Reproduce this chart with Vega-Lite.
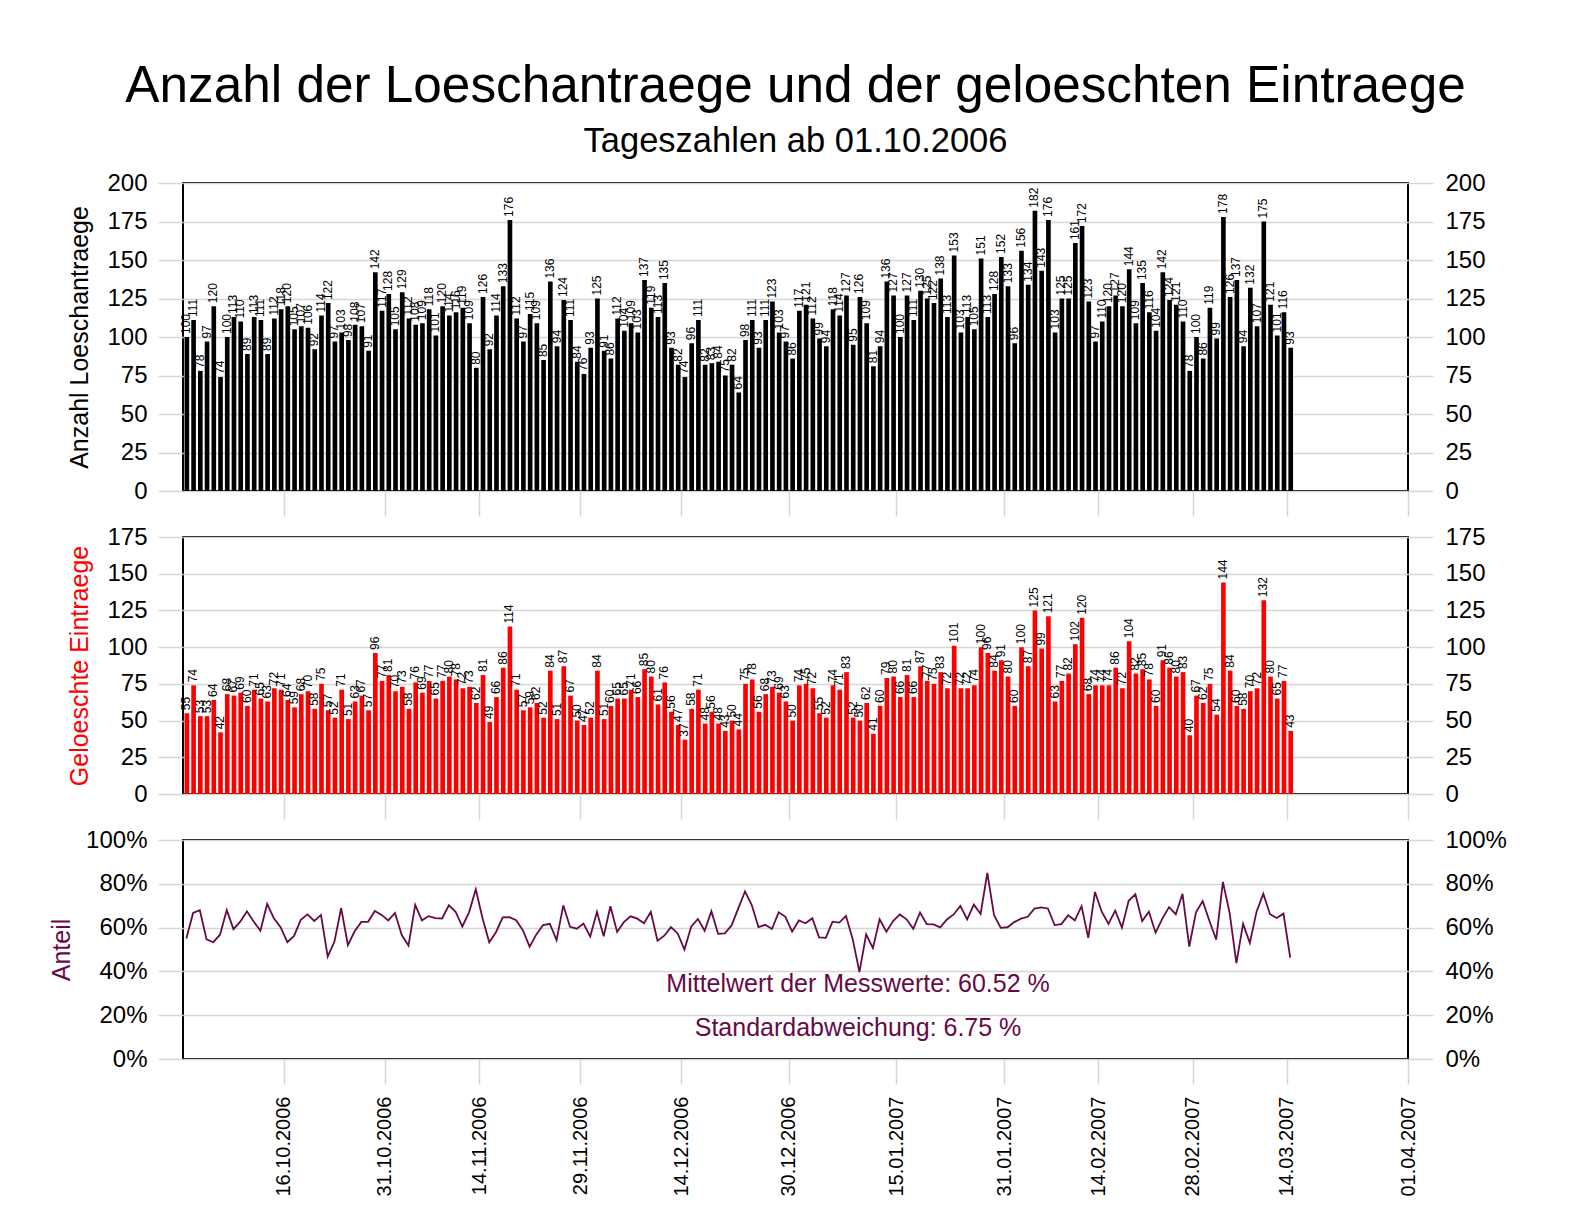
{
  "$schema": "https://vega.github.io/schema/vega-lite/v6.json",
  "background": "white",
  "padding": {"left": 48, "top": 61, "right": 5, "bottom": 5},
  "title": {
    "text": "Anzahl der Loeschantraege und der geloeschten Eintraege",
    "subtitle": "Tageszahlen ab 01.10.2006",
    "font": "Liberation Sans",
    "subtitleFont": "Liberation Sans",
    "fontSize": 51.3,
    "subtitleFontSize": 34.5,
    "fontWeight": "normal",
    "color": "black",
    "subtitleColor": "black",
    "anchor": "middle",
    "frame": "group",
    "subtitlePadding": 12,
    "offset": 12
  },
  "config": {
    "font": "Liberation Sans",
    "view": {"stroke": "black", "strokeWidth": 2},
    "axis": {
      "labelFont": "Liberation Sans",
      "titleFont": "Liberation Sans",
      "labelColor": "black",
      "titleFontWeight": "normal",
      "domain": false,
      "tickColor": "#d6d6d6",
      "tickWidth": 1.5,
      "tickSize": 25,
      "gridColor": "#d6d6d6",
      "gridWidth": 1.5,
      "labelOverlap": false,
      "labelFlush": false
    }
  },
  "datasets": {
    "tage": [
      {"date": "2006-10-01", "antraege": 100, "geloescht": 55, "anteil": 0.55},
      {"date": "2006-10-02", "antraege": 111, "geloescht": 74, "anteil": 0.6667},
      {"date": "2006-10-03", "antraege": 78, "geloescht": 53, "anteil": 0.6795},
      {"date": "2006-10-04", "antraege": 97, "geloescht": 53, "anteil": 0.5464},
      {"date": "2006-10-05", "antraege": 120, "geloescht": 64, "anteil": 0.5333},
      {"date": "2006-10-06", "antraege": 74, "geloescht": 42, "anteil": 0.5676},
      {"date": "2006-10-07", "antraege": 100, "geloescht": 68, "anteil": 0.68},
      {"date": "2006-10-08", "antraege": 113, "geloescht": 67, "anteil": 0.5929},
      {"date": "2006-10-09", "antraege": 110, "geloescht": 69, "anteil": 0.6273},
      {"date": "2006-10-10", "antraege": 89, "geloescht": 60, "anteil": 0.6742},
      {"date": "2006-10-11", "antraege": 113, "geloescht": 71, "anteil": 0.6283},
      {"date": "2006-10-12", "antraege": 111, "geloescht": 65, "anteil": 0.5856},
      {"date": "2006-10-13", "antraege": 89, "geloescht": 63, "anteil": 0.7079},
      {"date": "2006-10-14", "antraege": 112, "geloescht": 72, "anteil": 0.6429},
      {"date": "2006-10-15", "antraege": 118, "geloescht": 71, "anteil": 0.6017},
      {"date": "2006-10-16", "antraege": 120, "geloescht": 64, "anteil": 0.5333},
      {"date": "2006-10-17", "antraege": 105, "geloescht": 59, "anteil": 0.5619},
      {"date": "2006-10-18", "antraege": 107, "geloescht": 68, "anteil": 0.6355},
      {"date": "2006-10-19", "antraege": 106, "geloescht": 70, "anteil": 0.6604},
      {"date": "2006-10-20", "antraege": 92, "geloescht": 58, "anteil": 0.6304},
      {"date": "2006-10-21", "antraege": 114, "geloescht": 75, "anteil": 0.6579},
      {"date": "2006-10-22", "antraege": 122, "geloescht": 57, "anteil": 0.4672},
      {"date": "2006-10-23", "antraege": 97, "geloescht": 52, "anteil": 0.5361},
      {"date": "2006-10-24", "antraege": 103, "geloescht": 71, "anteil": 0.6893},
      {"date": "2006-10-25", "antraege": 98, "geloescht": 51, "anteil": 0.5204},
      {"date": "2006-10-26", "antraege": 108, "geloescht": 63, "anteil": 0.5833},
      {"date": "2006-10-27", "antraege": 107, "geloescht": 67, "anteil": 0.6262},
      {"date": "2006-10-28", "antraege": 91, "geloescht": 57, "anteil": 0.6264},
      {"date": "2006-10-29", "antraege": 142, "geloescht": 96, "anteil": 0.6761},
      {"date": "2006-10-30", "antraege": 117, "geloescht": 77, "anteil": 0.6581},
      {"date": "2006-10-31", "antraege": 128, "geloescht": 81, "anteil": 0.6328},
      {"date": "2006-11-01", "antraege": 105, "geloescht": 70, "anteil": 0.6667},
      {"date": "2006-11-02", "antraege": 129, "geloescht": 73, "anteil": 0.5659},
      {"date": "2006-11-03", "antraege": 112, "geloescht": 58, "anteil": 0.5179},
      {"date": "2006-11-04", "antraege": 108, "geloescht": 76, "anteil": 0.7037},
      {"date": "2006-11-05", "antraege": 109, "geloescht": 69, "anteil": 0.633},
      {"date": "2006-11-06", "antraege": 118, "geloescht": 77, "anteil": 0.6525},
      {"date": "2006-11-07", "antraege": 101, "geloescht": 65, "anteil": 0.6436},
      {"date": "2006-11-08", "antraege": 120, "geloescht": 77, "anteil": 0.6417},
      {"date": "2006-11-09", "antraege": 114, "geloescht": 80, "anteil": 0.7018},
      {"date": "2006-11-10", "antraege": 116, "geloescht": 78, "anteil": 0.6724},
      {"date": "2006-11-11", "antraege": 119, "geloescht": 72, "anteil": 0.605},
      {"date": "2006-11-12", "antraege": 109, "geloescht": 73, "anteil": 0.6697},
      {"date": "2006-11-13", "antraege": 80, "geloescht": 62, "anteil": 0.775},
      {"date": "2006-11-14", "antraege": 126, "geloescht": 81, "anteil": 0.6429},
      {"date": "2006-11-15", "antraege": 92, "geloescht": 49, "anteil": 0.5326},
      {"date": "2006-11-16", "antraege": 114, "geloescht": 66, "anteil": 0.5789},
      {"date": "2006-11-17", "antraege": 133, "geloescht": 86, "anteil": 0.6466},
      {"date": "2006-11-18", "antraege": 176, "geloescht": 114, "anteil": 0.6477},
      {"date": "2006-11-19", "antraege": 112, "geloescht": 71, "anteil": 0.6339},
      {"date": "2006-11-20", "antraege": 97, "geloescht": 57, "anteil": 0.5876},
      {"date": "2006-11-21", "antraege": 115, "geloescht": 59, "anteil": 0.513},
      {"date": "2006-11-22", "antraege": 109, "geloescht": 62, "anteil": 0.5688},
      {"date": "2006-11-23", "antraege": 85, "geloescht": 52, "anteil": 0.6118},
      {"date": "2006-11-24", "antraege": 136, "geloescht": 84, "anteil": 0.6176},
      {"date": "2006-11-25", "antraege": 94, "geloescht": 51, "anteil": 0.5426},
      {"date": "2006-11-26", "antraege": 124, "geloescht": 87, "anteil": 0.7016},
      {"date": "2006-11-27", "antraege": 111, "geloescht": 67, "anteil": 0.6036},
      {"date": "2006-11-28", "antraege": 84, "geloescht": 50, "anteil": 0.5952},
      {"date": "2006-11-29", "antraege": 76, "geloescht": 47, "anteil": 0.6184},
      {"date": "2006-11-30", "antraege": 93, "geloescht": 52, "anteil": 0.5591},
      {"date": "2006-12-01", "antraege": 125, "geloescht": 84, "anteil": 0.672},
      {"date": "2006-12-02", "antraege": 91, "geloescht": 51, "anteil": 0.5604},
      {"date": "2006-12-03", "antraege": 86, "geloescht": 60, "anteil": 0.6977},
      {"date": "2006-12-04", "antraege": 112, "geloescht": 65, "anteil": 0.5804},
      {"date": "2006-12-05", "antraege": 104, "geloescht": 65, "anteil": 0.625},
      {"date": "2006-12-06", "antraege": 109, "geloescht": 71, "anteil": 0.6514},
      {"date": "2006-12-07", "antraege": 103, "geloescht": 66, "anteil": 0.6408},
      {"date": "2006-12-08", "antraege": 137, "geloescht": 85, "anteil": 0.6204},
      {"date": "2006-12-09", "antraege": 119, "geloescht": 80, "anteil": 0.6723},
      {"date": "2006-12-10", "antraege": 113, "geloescht": 61, "anteil": 0.5398},
      {"date": "2006-12-11", "antraege": 135, "geloescht": 76, "anteil": 0.563},
      {"date": "2006-12-12", "antraege": 93, "geloescht": 56, "anteil": 0.6022},
      {"date": "2006-12-13", "antraege": 82, "geloescht": 47, "anteil": 0.5732},
      {"date": "2006-12-14", "antraege": 74, "geloescht": 37, "anteil": 0.5},
      {"date": "2006-12-15", "antraege": 96, "geloescht": 58, "anteil": 0.6042},
      {"date": "2006-12-16", "antraege": 111, "geloescht": 71, "anteil": 0.6396},
      {"date": "2006-12-17", "antraege": 82, "geloescht": 48, "anteil": 0.5854},
      {"date": "2006-12-18", "antraege": 83, "geloescht": 56, "anteil": 0.6747},
      {"date": "2006-12-19", "antraege": 84, "geloescht": 48, "anteil": 0.5714},
      {"date": "2006-12-20", "antraege": 75, "geloescht": 43, "anteil": 0.5733},
      {"date": "2006-12-21", "antraege": 82, "geloescht": 50, "anteil": 0.6098},
      {"date": "2006-12-22", "antraege": 64, "geloescht": 44, "anteil": 0.6875},
      {"date": "2006-12-23", "antraege": 98, "geloescht": 75, "anteil": 0.7653},
      {"date": "2006-12-24", "antraege": 111, "geloescht": 78, "anteil": 0.7027},
      {"date": "2006-12-25", "antraege": 93, "geloescht": 56, "anteil": 0.6022},
      {"date": "2006-12-26", "antraege": 111, "geloescht": 68, "anteil": 0.6126},
      {"date": "2006-12-27", "antraege": 123, "geloescht": 73, "anteil": 0.5935},
      {"date": "2006-12-28", "antraege": 103, "geloescht": 69, "anteil": 0.6699},
      {"date": "2006-12-29", "antraege": 97, "geloescht": 63, "anteil": 0.6495},
      {"date": "2006-12-30", "antraege": 86, "geloescht": 50, "anteil": 0.5814},
      {"date": "2006-12-31", "antraege": 117, "geloescht": 74, "anteil": 0.6325},
      {"date": "2007-01-01", "antraege": 121, "geloescht": 75, "anteil": 0.6198},
      {"date": "2007-01-02", "antraege": 112, "geloescht": 72, "anteil": 0.6429},
      {"date": "2007-01-03", "antraege": 99, "geloescht": 55, "anteil": 0.5556},
      {"date": "2007-01-04", "antraege": 94, "geloescht": 52, "anteil": 0.5532},
      {"date": "2007-01-05", "antraege": 118, "geloescht": 74, "anteil": 0.6271},
      {"date": "2007-01-06", "antraege": 114, "geloescht": 71, "anteil": 0.6228},
      {"date": "2007-01-07", "antraege": 127, "geloescht": 83, "anteil": 0.6535},
      {"date": "2007-01-08", "antraege": 95, "geloescht": 52, "anteil": 0.5474},
      {"date": "2007-01-09", "antraege": 126, "geloescht": 50, "anteil": 0.3968},
      {"date": "2007-01-10", "antraege": 109, "geloescht": 62, "anteil": 0.5688},
      {"date": "2007-01-11", "antraege": 81, "geloescht": 41, "anteil": 0.5062},
      {"date": "2007-01-12", "antraege": 94, "geloescht": 60, "anteil": 0.6383},
      {"date": "2007-01-13", "antraege": 136, "geloescht": 79, "anteil": 0.5809},
      {"date": "2007-01-14", "antraege": 127, "geloescht": 80, "anteil": 0.6299},
      {"date": "2007-01-15", "antraege": 100, "geloescht": 66, "anteil": 0.66},
      {"date": "2007-01-16", "antraege": 127, "geloescht": 81, "anteil": 0.6378},
      {"date": "2007-01-17", "antraege": 111, "geloescht": 66, "anteil": 0.5946},
      {"date": "2007-01-18", "antraege": 130, "geloescht": 87, "anteil": 0.6692},
      {"date": "2007-01-19", "antraege": 125, "geloescht": 77, "anteil": 0.616},
      {"date": "2007-01-20", "antraege": 122, "geloescht": 75, "anteil": 0.6148},
      {"date": "2007-01-21", "antraege": 138, "geloescht": 83, "anteil": 0.6014},
      {"date": "2007-01-22", "antraege": 113, "geloescht": 72, "anteil": 0.6372},
      {"date": "2007-01-23", "antraege": 153, "geloescht": 101, "anteil": 0.6601},
      {"date": "2007-01-24", "antraege": 103, "geloescht": 72, "anteil": 0.699},
      {"date": "2007-01-25", "antraege": 113, "geloescht": 72, "anteil": 0.6372},
      {"date": "2007-01-26", "antraege": 105, "geloescht": 74, "anteil": 0.7048},
      {"date": "2007-01-27", "antraege": 151, "geloescht": 100, "anteil": 0.6623},
      {"date": "2007-01-28", "antraege": 113, "geloescht": 96, "anteil": 0.8496},
      {"date": "2007-01-29", "antraege": 128, "geloescht": 84, "anteil": 0.6563},
      {"date": "2007-01-30", "antraege": 152, "geloescht": 91, "anteil": 0.5987},
      {"date": "2007-01-31", "antraege": 133, "geloescht": 80, "anteil": 0.6015},
      {"date": "2007-02-01", "antraege": 96, "geloescht": 60, "anteil": 0.625},
      {"date": "2007-02-02", "antraege": 156, "geloescht": 100, "anteil": 0.641},
      {"date": "2007-02-03", "antraege": 134, "geloescht": 87, "anteil": 0.6493},
      {"date": "2007-02-04", "antraege": 182, "geloescht": 125, "anteil": 0.6868},
      {"date": "2007-02-05", "antraege": 143, "geloescht": 99, "anteil": 0.6923},
      {"date": "2007-02-06", "antraege": 176, "geloescht": 121, "anteil": 0.6875},
      {"date": "2007-02-07", "antraege": 103, "geloescht": 63, "anteil": 0.6117},
      {"date": "2007-02-08", "antraege": 125, "geloescht": 77, "anteil": 0.616},
      {"date": "2007-02-09", "antraege": 125, "geloescht": 82, "anteil": 0.656},
      {"date": "2007-02-10", "antraege": 161, "geloescht": 102, "anteil": 0.6335},
      {"date": "2007-02-11", "antraege": 172, "geloescht": 120, "anteil": 0.6977},
      {"date": "2007-02-12", "antraege": 123, "geloescht": 68, "anteil": 0.5528},
      {"date": "2007-02-13", "antraege": 97, "geloescht": 74, "anteil": 0.7629},
      {"date": "2007-02-14", "antraege": 110, "geloescht": 74, "anteil": 0.6727},
      {"date": "2007-02-15", "antraege": 120, "geloescht": 74, "anteil": 0.6167},
      {"date": "2007-02-16", "antraege": 127, "geloescht": 86, "anteil": 0.6772},
      {"date": "2007-02-17", "antraege": 120, "geloescht": 72, "anteil": 0.6},
      {"date": "2007-02-18", "antraege": 144, "geloescht": 104, "anteil": 0.7222},
      {"date": "2007-02-19", "antraege": 109, "geloescht": 82, "anteil": 0.7523},
      {"date": "2007-02-20", "antraege": 135, "geloescht": 85, "anteil": 0.6296},
      {"date": "2007-02-21", "antraege": 116, "geloescht": 78, "anteil": 0.6724},
      {"date": "2007-02-22", "antraege": 104, "geloescht": 60, "anteil": 0.5769},
      {"date": "2007-02-23", "antraege": 142, "geloescht": 91, "anteil": 0.6408},
      {"date": "2007-02-24", "antraege": 124, "geloescht": 86, "anteil": 0.6935},
      {"date": "2007-02-25", "antraege": 121, "geloescht": 80, "anteil": 0.6612},
      {"date": "2007-02-26", "antraege": 110, "geloescht": 83, "anteil": 0.7545},
      {"date": "2007-02-27", "antraege": 78, "geloescht": 40, "anteil": 0.5128},
      {"date": "2007-02-28", "antraege": 100, "geloescht": 67, "anteil": 0.67},
      {"date": "2007-03-01", "antraege": 86, "geloescht": 62, "anteil": 0.7209},
      {"date": "2007-03-02", "antraege": 119, "geloescht": 75, "anteil": 0.6303},
      {"date": "2007-03-03", "antraege": 99, "geloescht": 54, "anteil": 0.5455},
      {"date": "2007-03-04", "antraege": 178, "geloescht": 144, "anteil": 0.809},
      {"date": "2007-03-05", "antraege": 126, "geloescht": 84, "anteil": 0.6667},
      {"date": "2007-03-06", "antraege": 137, "geloescht": 60, "anteil": 0.438},
      {"date": "2007-03-07", "antraege": 94, "geloescht": 58, "anteil": 0.617},
      {"date": "2007-03-08", "antraege": 132, "geloescht": 70, "anteil": 0.5303},
      {"date": "2007-03-09", "antraege": 107, "geloescht": 72, "anteil": 0.6729},
      {"date": "2007-03-10", "antraege": 175, "geloescht": 132, "anteil": 0.7543},
      {"date": "2007-03-11", "antraege": 121, "geloescht": 80, "anteil": 0.6612},
      {"date": "2007-03-12", "antraege": 101, "geloescht": 65, "anteil": 0.6436},
      {"date": "2007-03-13", "antraege": 116, "geloescht": 77, "anteil": 0.6638},
      {"date": "2007-03-14", "antraege": 93, "geloescht": 43, "anteil": 0.4624}
    ]
  },
  "spacing": 46,
  "bounds": "flush",
  "vconcat": [
    {
      "width": 1225,
      "height": 308,
      "data": {"name": "tage"},
      "layer": [
        {
          "mark": {"type": "bar", "color": "black", "width": {"band": 0.84}},
          "encoding": {
            "x": {
              "field": "date", "type": "temporal", "timeUnit": "utcyearmonthdate",
              "scale": {"domain": [{"year": 2006, "month": 10, "date": 1, "utc": true}, {"year": 2007, "month": 4, "date": 1, "utc": true}]},
              "axis": {"title": null, "labels": false, "grid": false,
                "values": [{"year": 2006, "month": 10, "date": 16, "utc": true}, {"year": 2006, "month": 10, "date": 31, "utc": true}, {"year": 2006, "month": 11, "date": 14, "utc": true}, {"year": 2006, "month": 11, "date": 29, "utc": true}, {"year": 2006, "month": 12, "date": 14, "utc": true}, {"year": 2006, "month": 12, "date": 30, "utc": true}, {"year": 2007, "month": 1, "date": 15, "utc": true}, {"year": 2007, "month": 1, "date": 31, "utc": true}, {"year": 2007, "month": 2, "date": 14, "utc": true}, {"year": 2007, "month": 2, "date": 28, "utc": true}, {"year": 2007, "month": 3, "date": 14, "utc": true}, {"year": 2007, "month": 4, "date": 1, "utc": true}]}
            },
            "y": {
              "field": "antraege", "type": "quantitative",
              "scale": {"domain": [0, 200], "nice": false},
              "axis": {"orient": "left", "title": "Anzahl Loeschantraege", "titleColor": "black", "titleFontSize": 25, "titlePadding": 14,
                "labelFontSize": 24, "labelPadding": 11, "grid": true, "values": [0, 25, 50, 75, 100, 125, 150, 175, 200]}
            }
          }
        },
        {
          "mark": {"type": "text", "angle": 270, "align": "left", "baseline": "middle", "dx": 3, "fontSize": 12, "color": "black"},
          "encoding": {
            "x": {
              "field": "date", "type": "temporal", "timeUnit": "utcyearmonthdate", "bandPosition": 0.5,
              "scale": {"domain": [{"year": 2006, "month": 10, "date": 1, "utc": true}, {"year": 2007, "month": 4, "date": 1, "utc": true}]},
              "axis": {"title": null, "labels": false, "grid": false,
                "values": [{"year": 2006, "month": 10, "date": 16, "utc": true}, {"year": 2006, "month": 10, "date": 31, "utc": true}, {"year": 2006, "month": 11, "date": 14, "utc": true}, {"year": 2006, "month": 11, "date": 29, "utc": true}, {"year": 2006, "month": 12, "date": 14, "utc": true}, {"year": 2006, "month": 12, "date": 30, "utc": true}, {"year": 2007, "month": 1, "date": 15, "utc": true}, {"year": 2007, "month": 1, "date": 31, "utc": true}, {"year": 2007, "month": 2, "date": 14, "utc": true}, {"year": 2007, "month": 2, "date": 28, "utc": true}, {"year": 2007, "month": 3, "date": 14, "utc": true}, {"year": 2007, "month": 4, "date": 1, "utc": true}]}
            },
            "y": {
              "field": "antraege", "type": "quantitative",
              "scale": {"domain": [0, 200], "nice": false},
              "axis": {"orient": "right", "title": null, "labelFontSize": 24, "labelPadding": 12, "grid": false, "values": [0, 25, 50, 75, 100, 125, 150, 175, 200]}
            },
            "text": {"field": "antraege", "type": "quantitative"}
          }
        }
      ],
      "resolve": {"axis": {"y": "independent"}}
    },
    {
      "width": 1225,
      "height": 257,
      "data": {"name": "tage"},
      "layer": [
        {
          "mark": {"type": "bar", "color": "#ff0000", "width": {"band": 0.84}},
          "encoding": {
            "x": {
              "field": "date", "type": "temporal", "timeUnit": "utcyearmonthdate",
              "scale": {"domain": [{"year": 2006, "month": 10, "date": 1, "utc": true}, {"year": 2007, "month": 4, "date": 1, "utc": true}]},
              "axis": {"title": null, "labels": false, "grid": false,
                "values": [{"year": 2006, "month": 10, "date": 16, "utc": true}, {"year": 2006, "month": 10, "date": 31, "utc": true}, {"year": 2006, "month": 11, "date": 14, "utc": true}, {"year": 2006, "month": 11, "date": 29, "utc": true}, {"year": 2006, "month": 12, "date": 14, "utc": true}, {"year": 2006, "month": 12, "date": 30, "utc": true}, {"year": 2007, "month": 1, "date": 15, "utc": true}, {"year": 2007, "month": 1, "date": 31, "utc": true}, {"year": 2007, "month": 2, "date": 14, "utc": true}, {"year": 2007, "month": 2, "date": 28, "utc": true}, {"year": 2007, "month": 3, "date": 14, "utc": true}, {"year": 2007, "month": 4, "date": 1, "utc": true}]}
            },
            "y": {
              "field": "geloescht", "type": "quantitative",
              "scale": {"domain": [0, 175], "nice": false},
              "axis": {"orient": "left", "title": "Geloeschte Eintraege", "titleColor": "#ff0000", "titleFontSize": 25, "titlePadding": 14,
                "labelFontSize": 24, "labelPadding": 11, "grid": true, "values": [0, 25, 50, 75, 100, 125, 150, 175]}
            }
          }
        },
        {
          "mark": {"type": "text", "angle": 270, "align": "left", "baseline": "middle", "dx": 3, "fontSize": 12, "color": "black"},
          "encoding": {
            "x": {
              "field": "date", "type": "temporal", "timeUnit": "utcyearmonthdate", "bandPosition": 0.5,
              "scale": {"domain": [{"year": 2006, "month": 10, "date": 1, "utc": true}, {"year": 2007, "month": 4, "date": 1, "utc": true}]},
              "axis": {"title": null, "labels": false, "grid": false,
                "values": [{"year": 2006, "month": 10, "date": 16, "utc": true}, {"year": 2006, "month": 10, "date": 31, "utc": true}, {"year": 2006, "month": 11, "date": 14, "utc": true}, {"year": 2006, "month": 11, "date": 29, "utc": true}, {"year": 2006, "month": 12, "date": 14, "utc": true}, {"year": 2006, "month": 12, "date": 30, "utc": true}, {"year": 2007, "month": 1, "date": 15, "utc": true}, {"year": 2007, "month": 1, "date": 31, "utc": true}, {"year": 2007, "month": 2, "date": 14, "utc": true}, {"year": 2007, "month": 2, "date": 28, "utc": true}, {"year": 2007, "month": 3, "date": 14, "utc": true}, {"year": 2007, "month": 4, "date": 1, "utc": true}]}
            },
            "y": {
              "field": "geloescht", "type": "quantitative",
              "scale": {"domain": [0, 175], "nice": false},
              "axis": {"orient": "right", "title": null, "labelFontSize": 24, "labelPadding": 12, "grid": false, "values": [0, 25, 50, 75, 100, 125, 150, 175]}
            },
            "text": {"field": "geloescht", "type": "quantitative"}
          }
        }
      ],
      "resolve": {"axis": {"y": "independent"}}
    },
    {
      "width": 1225,
      "height": 219,
      "data": {"name": "tage"},
      "layer": [
        {
          "mark": {"type": "line", "color": "#660a46", "strokeWidth": 1.8},
          "encoding": {
            "x": {
              "field": "date", "type": "temporal", "timeUnit": "utcyearmonthdate", "bandPosition": 0.5,
              "scale": {"domain": [{"year": 2006, "month": 10, "date": 1, "utc": true}, {"year": 2007, "month": 4, "date": 1, "utc": true}]},
              "axis": {"title": null, "format": "%d.%m.%Y", "labelAngle": 270, "labelFontSize": 20, "labelPadding": 12, "grid": false,
                "values": [{"year": 2006, "month": 10, "date": 16, "utc": true}, {"year": 2006, "month": 10, "date": 31, "utc": true}, {"year": 2006, "month": 11, "date": 14, "utc": true}, {"year": 2006, "month": 11, "date": 29, "utc": true}, {"year": 2006, "month": 12, "date": 14, "utc": true}, {"year": 2006, "month": 12, "date": 30, "utc": true}, {"year": 2007, "month": 1, "date": 15, "utc": true}, {"year": 2007, "month": 1, "date": 31, "utc": true}, {"year": 2007, "month": 2, "date": 14, "utc": true}, {"year": 2007, "month": 2, "date": 28, "utc": true}, {"year": 2007, "month": 3, "date": 14, "utc": true}, {"year": 2007, "month": 4, "date": 1, "utc": true}]}
            },
            "y": {
              "field": "anteil", "type": "quantitative",
              "scale": {"domain": [0, 1], "nice": false},
              "axis": {"orient": "left", "title": "Anteil", "titleColor": "#660a46", "titleFontSize": 25, "titlePadding": 11,
                "labelFontSize": 24, "labelPadding": 11, "grid": true, "format": ".0%", "values": [0, 0.2, 0.4, 0.6, 0.8, 1]}
            }
          }
        },
        {
          "data": {"values": [{}]},
          "mark": {"type": "text", "align": "center", "baseline": "middle", "fontSize": 25, "color": "#660a46"},
          "encoding": {
            "x": {"datum": {"year": 2007, "month": 1, "date": 9, "hours": 7, "utc": true}, "type": "temporal"},
            "y": {
              "datum": 0.344, "type": "quantitative",
              "axis": {"orient": "right", "title": null, "labelFontSize": 24, "labelPadding": 12, "grid": false, "format": ".0%", "values": [0, 0.2, 0.4, 0.6, 0.8, 1]}
            },
            "text": {"value": "Mittelwert der Messwerte: 60.52 %"}
          }
        },
        {
          "data": {"values": [{}]},
          "mark": {"type": "text", "align": "center", "baseline": "middle", "fontSize": 25, "color": "#660a46"},
          "encoding": {
            "x": {"datum": {"year": 2007, "month": 1, "date": 9, "hours": 7, "utc": true}, "type": "temporal"},
            "y": {"datum": 0.14, "type": "quantitative", "axis": null},
            "text": {"value": "Standardabweichung: 6.75 %"}
          }
        }
      ],
      "resolve": {"axis": {"y": "independent"}}
    }
  ]
}
